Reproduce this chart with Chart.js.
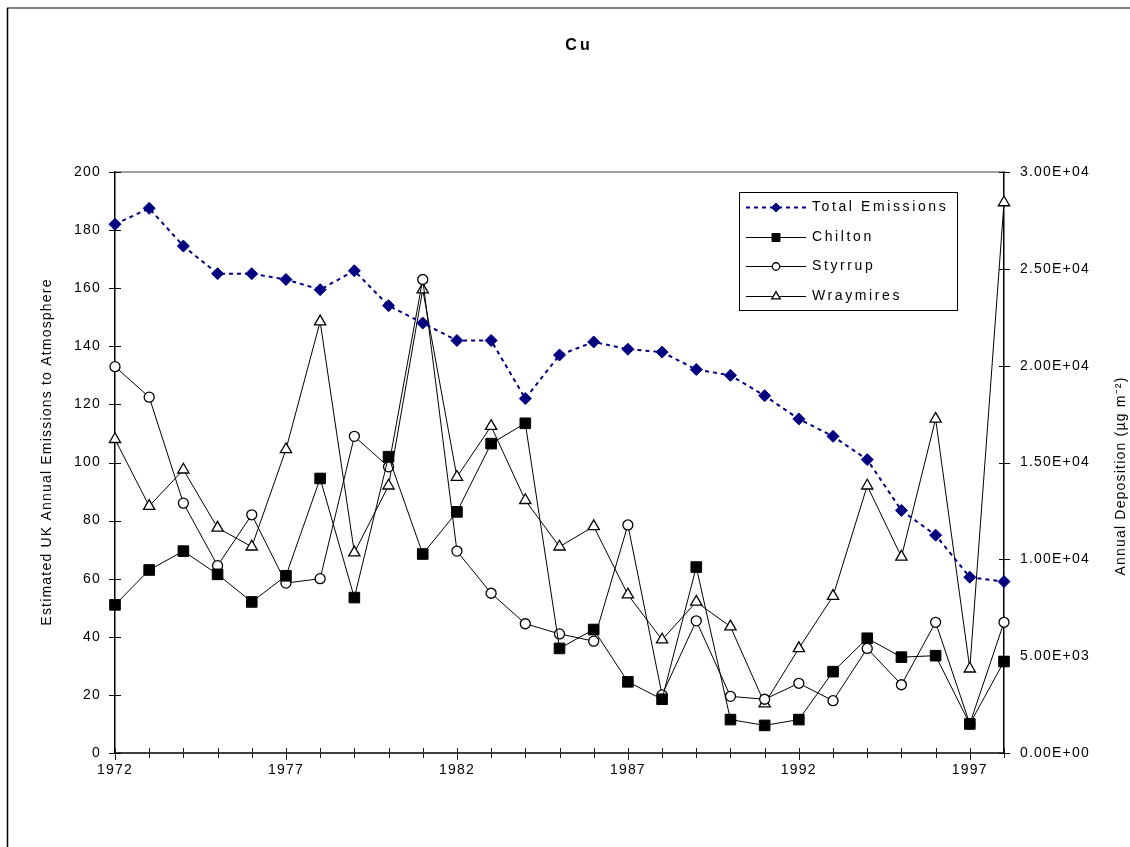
<!DOCTYPE html>
<html>
<head>
<meta charset="utf-8">
<title>Cu</title>
<script src="https://cdn.jsdelivr.net/npm/chart.js@4.4.0/dist/chart.umd.min.js"></script>
<style>
  body { margin: 0; background: #fff; }
  canvas { display: block; }
</style>
</head>
<body>
<canvas id="chartCanvas" width="1130" height="847"></canvas>
<script>
// Cu: UK emissions (left axis) and deposition at three sites (right axis)
var years = [1972, 1973, 1974, 1975, 1976, 1977, 1978, 1979, 1980, 1981, 1982, 1983, 1984, 1985,
             1986, 1987, 1988, 1989, 1990, 1991, 1992, 1993, 1994, 1995, 1996, 1997, 1998];

var totalEmissions = [182, 187.5, 174.5, 165, 165, 163, 159.5, 166, 154, 148, 142, 142, 122, 137,
                      141.5, 139, 138, 132, 130, 123, 115, 109, 101, 83.5, 75, 60.5, 59];

var chilton = [7650, 9450, 10425, 9225, 7800, 9150, 14175, 8025, 15300, 10275, 12450, 15975, 17025, 5400,
               6375, 3675, 2775, 9600, 1725, 1425, 1725, 4200, 5925, 4950, 5025, 1500, 4725];

var styrrup = [19950, 18375, 12900, 9675, 12300, 8775, 9000, 16350, 14775, 24450, 10425, 8250, 6675, 6150,
               5775, 11775, 3000, 6825, 2925, 2775, 3600, 2700, 5400, 3525, 6750, 1500, 6750];

var wraymires = [16200, 12750, 14625, 11625, 10650, 15675, 22275, 10350, 13800, 23925, 14250, 16875, 13050, 10650,
                 11700, 8175, 5850, 7800, 6525, 2550, 5400, 8100, 13800, 10125, 17250, 4350, 28425];

var emissionTicks = {min: 0, max: 200, step: 20};
var depositionTicks = {min: 0, max: 30000, step: 5000};

var FONT = '"Liberation Sans", Arial, sans-serif';
var ctx = document.getElementById("chartCanvas");

function sciLabel(v) {
    var parts = Number(v).toExponential(2).split('e');
    var e = parseInt(parts[1], 10);
    return parts[0] + 'E' + (e < 0 ? '-' : '+') + (Math.abs(e) < 10 ? '0' : '') + Math.abs(e);
}

// frame, cross ticks, titles and the boxed legend
var decorPlugin = {
    id: 'decor',
    beforeDraw: function(chart) {
        var c = chart.ctx;
        c.letterSpacing = '1.2px';
        c.save();
        c.strokeStyle = '#808080';
        c.lineWidth = 2;
        c.beginPath(); c.moveTo(7, 8); c.lineTo(1130, 8); c.stroke();
        c.strokeStyle = '#000';
        c.lineWidth = 1.5;
        c.beginPath(); c.moveTo(7.5, 8); c.lineTo(7.5, 847); c.stroke();
        c.restore();
    },
    beforeDatasetsDraw: function(chart) {
        var c = chart.ctx;
        var a = chart.chartArea;
        c.save();
        // top edge of plot area
        c.strokeStyle = '#808080';
        c.lineWidth = 1.5;
        c.beginPath(); c.moveTo(a.left, a.top); c.lineTo(a.right, a.top); c.stroke();

        c.strokeStyle = '#000';
        c.lineWidth = 1;
        var sy = chart.scales.y;
        sy.ticks.forEach(function(t, i) {
            var p = Math.round(sy.getPixelForTick(i)) + 0.5;
            c.beginPath(); c.moveTo(a.left - 6, p); c.lineTo(a.left + 6, p); c.stroke();
        });
        var sy1 = chart.scales.y1;
        sy1.ticks.forEach(function(t, i) {
            var p = Math.round(sy1.getPixelForTick(i)) + 0.5;
            c.beginPath(); c.moveTo(a.right - 5, p); c.lineTo(a.right + 6, p); c.stroke();
        });
        c.strokeStyle = '#202020';
        var sx = chart.scales.x;
        sx.ticks.forEach(function(t, i) {
            var p = Math.round(sx.getPixelForTick(i)) + 0.5;
            var major = (years[i] - years[0]) % 5 === 0;
            c.beginPath(); c.moveTo(p, a.bottom - 5); c.lineTo(p, a.bottom + (major ? 7 : 5)); c.stroke();
        });
        c.restore();
    },
    afterDraw: function(chart) {
        var c = chart.ctx;
        c.save();
        c.fillStyle = '#000';
        c.textAlign = 'center';
        c.textBaseline = 'middle';

        // chart title
        c.letterSpacing = '3px';
        c.font = 'bold 16px ' + FONT;
        c.fillText('Cu', 579, 46);

        // axis titles
        c.letterSpacing = '1.2px';
        c.font = '14px ' + FONT;
        c.save();
        c.translate(47, 452);
        c.rotate(-Math.PI / 2);
        c.fillText('Estimated UK Annual Emissions to Atmosphere', 0, 0);
        c.restore();
        c.save();
        c.translate(1121, 476);
        c.rotate(-Math.PI / 2);
        c.fillText('Annual Deposition (\u00b5g m\u207b\u00b2)', 0, 0);
        c.restore();

        // legend
        var bx = 739.5, by = 192.5, bw = 218, bh = 118;
        c.fillStyle = '#fff';
        c.fillRect(bx, by, bw, bh);
        c.strokeStyle = '#000';
        c.lineWidth = 1;
        c.strokeRect(bx, by, bw, bh);
        c.letterSpacing = '2.6px';
        chart.data.datasets.forEach(function(ds, i) {
            var y = Math.round(207 + i * 29.5) + 0.5;
            c.strokeStyle = ds.borderColor;
            c.lineWidth = ds.borderWidth;
            c.setLineDash(ds.borderDash || []);
            c.beginPath(); c.moveTo(746, y); c.lineTo(806, y); c.stroke();
            c.setLineDash([]);
            c.fillStyle = ds.pointBackgroundColor;
            c.strokeStyle = ds.pointBorderColor;
            c.lineWidth = ds.pointBorderWidth;
            Chart.helpers.drawPoint(c, {
                pointStyle: ds.pointStyle,
                radius: ds.pointRadius * 0.75,
                borderWidth: ds.pointBorderWidth,
                rotation: 0
            }, 776, y);
            c.fillStyle = '#000';
            c.textAlign = 'left';
            c.font = '14px ' + FONT;
            c.fillText(ds.label, 812, y);
        });
        c.restore();
    }
};

var myChart = new Chart(ctx, {
    type: 'line',
    data: {
        labels: years,
        datasets: [{
            label: 'Total Emissions',
            data: totalEmissions,
            yAxisID: 'y',
            borderColor: '#000080',
            borderWidth: 2,
            borderDash: [4, 4],
            pointStyle: 'rectRot',
            pointRadius: 6,
            pointBackgroundColor: '#000080',
            pointBorderColor: '#000080',
            pointBorderWidth: 1,
            tension: 0,
            clip: false
        },
        {
            label: 'Chilton',
            data: chilton,
            yAxisID: 'y1',
            borderColor: '#000',
            borderWidth: 1,
            pointStyle: 'rect',
            pointRadius: 7.5,
            pointBackgroundColor: '#000',
            pointBorderColor: '#000',
            pointBorderWidth: 1,
            tension: 0,
            clip: false
        },
        {
            label: 'Styrrup',
            data: styrrup,
            yAxisID: 'y1',
            borderColor: '#000',
            borderWidth: 1,
            pointStyle: 'circle',
            pointRadius: 5,
            pointBackgroundColor: '#fff',
            pointBorderColor: '#000',
            pointBorderWidth: 1.3,
            tension: 0,
            clip: false
        },
        {
            label: 'Wraymires',
            data: wraymires,
            yAxisID: 'y1',
            borderColor: '#000',
            borderWidth: 1,
            pointStyle: 'triangle',
            pointRadius: 6.5,
            pointBackgroundColor: '#fff',
            pointBorderColor: '#000',
            pointBorderWidth: 1.3,
            tension: 0,
            clip: false
        }]
    },
    options: {
        responsive: false,
        animation: false,
        layout: {
            padding: { left: 0, right: 0, top: 172, bottom: 0 }
        },
        scales: {
            x: {
                type: 'category',
                offset: false,
                grid: { display: false, drawTicks: false },
                border: { color: '#404040', width: 2 },
                ticks: {
                    autoSkip: false,
                    maxRotation: 0,
                    padding: 9,
                    color: '#000',
                    font: { family: FONT, size: 14 },
                    callback: function(v, i) {
                        var yr = years[i];
                        return (yr - years[0]) % 5 === 0 ? String(yr) : '';
                    }
                },
                afterFit: function(s) { s.height = 94; }
            },
            y: {
                position: 'left',
                min: emissionTicks.min,
                max: emissionTicks.max,
                grid: { display: false, drawTicks: false },
                border: { color: '#000', width: 1.5 },
                ticks: {
                    stepSize: emissionTicks.step,
                    padding: 14,
                    color: '#000',
                    font: { family: FONT, size: 14 }
                },
                afterFit: function(s) { s.width = 115; }
            },
            y1: {
                position: 'right',
                min: depositionTicks.min,
                max: depositionTicks.max,
                grid: { display: false, drawTicks: false },
                border: { color: '#000', width: 1.5 },
                ticks: {
                    stepSize: depositionTicks.step,
                    padding: 16,
                    color: '#000',
                    font: { family: FONT, size: 14 },
                    callback: function(v) { return sciLabel(v); }
                },
                afterFit: function(s) { s.width = 126; }
            }
        },
        plugins: {
            legend: { display: false },
            tooltip: { enabled: false }
        }
    },
    plugins: [decorPlugin]
});
</script>
</body>
</html>
